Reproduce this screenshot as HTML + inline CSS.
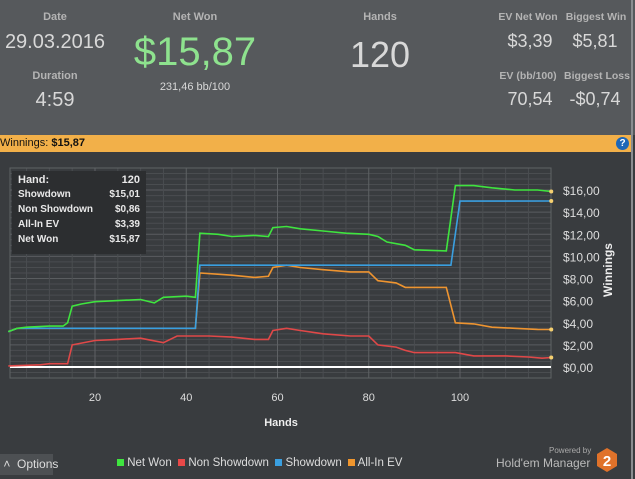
<!DOCTYPE html>
<html><head><meta charset="utf-8"><style>
body{margin:0;width:635px;height:479px;overflow:hidden;background:#393c3f;font-family:"Liberation Sans","DejaVu Sans",sans-serif;position:relative}
.top{position:absolute;left:0;top:0;width:635px;height:135px;background:#56595c}
.t{position:absolute;color:#d8d8d8;text-align:center;white-space:nowrap}
.lab{font-size:11px;color:#b4b4b4;font-weight:bold}
.bar{position:absolute;left:0;top:135px;width:632px;height:17px;background:#f2b049;font-size:11px;line-height:17px;color:#111}
.rb{position:absolute;left:631px;top:0;width:2px;height:479px;background:#8a8d90}
</style></head><body>
<div class="top"></div>
<div class="t lab" style="left:30px;top:11px;width:50px">Date</div>
<div class="t" style="left:0;top:31px;width:110px;font-size:20px">29.03.2016</div>
<div class="t lab" style="left:25px;top:70px;width:60px">Duration</div>
<div class="t" style="left:25px;top:89px;width:60px;font-size:20px">4:59</div>
<div class="t lab" style="left:155px;top:11px;width:80px">Net Won</div>
<div class="t" style="left:120px;top:30px;width:150px;font-size:40px;color:#8ee28e">$15,87</div>
<div class="t" style="left:140px;top:81px;width:110px;font-size:11px">231,46 bb/100</div>
<div class="t lab" style="left:350px;top:11px;width:60px">Hands</div>
<div class="t" style="left:320px;top:34px;width:120px;font-size:36px">120</div>
<div class="t lab" style="left:495px;top:11px;width:66px;font-size:10.5px">EV Net Won</div>
<div class="t lab" style="left:561px;top:11px;width:70px;font-size:10.5px">Biggest Win</div>
<div class="t" style="left:490px;top:31px;width:80px;font-size:18px">$3,39</div>
<div class="t" style="left:560px;top:31px;width:70px;font-size:18px">$5,81</div>
<div class="t lab" style="left:495px;top:70px;width:66px;font-size:10.5px">EV (bb/100)</div>
<div class="t lab" style="left:561px;top:70px;width:72px;font-size:10.5px">Biggest Loss</div>
<div class="t" style="left:490px;top:89px;width:80px;font-size:18px">70,54</div>
<div class="t" style="left:560px;top:89px;width:70px;font-size:18px">-$0,74</div>
<div class="bar">Winnings: <b>$15,87</b><span style="position:absolute;right:3px;top:2px;width:13px;height:13px;border-radius:50%;background:#1d67b8;color:#fff;font-size:10px;line-height:13px;text-align:center;font-weight:bold">?</span></div>
<div class="rb"></div>
<svg id="s" width="635" height="479" style="position:absolute;left:0;top:0"></svg>
<div style="position:absolute;left:0;top:454px;width:53px;height:21px;background:#4d5053;color:#ddd;font-size:12px;line-height:21px">&nbsp;˄&nbsp;&nbsp;Options</div>
<div style="position:absolute;left:117px;top:457px;font-size:11.5px;color:#ddd;white-space:nowrap">
<span style="display:inline-block;width:7px;height:7px;background:#3fe43f"></span> Net Won&nbsp;
<span style="display:inline-block;width:7px;height:7px;background:#e84848"></span> Non Showdown&nbsp;
<span style="display:inline-block;width:7px;height:7px;background:#3a9fe0"></span> Showdown&nbsp;
<span style="display:inline-block;width:7px;height:7px;background:#f0962e"></span> All-In EV</div>
<div style="position:absolute;left:549px;top:446px;font-size:8px;color:#aaa">Powered by</div>
<div style="position:absolute;left:496px;top:456px;font-size:12px;color:#bbb">Hold'em Manager</div>
<svg width="22" height="26" style="position:absolute;left:596px;top:447px"><polygon points="11,1 21,7 21,19 11,25 1,19 1,7" fill="#e0722a"/><text x="11" y="19" font-size="15" font-weight="bold" fill="#fff" text-anchor="middle" font-family="Liberation Sans">2</text></svg>
<div style="position:absolute;left:12px;top:171px;width:134px;height:83px;background:#2c2e30;color:#e8e8e8;font-size:10px;font-weight:bold">
<div style="position:relative;height:15px;font-size:11px;margin:3px 6px 0"><span>Hand:</span><span style="position:absolute;right:0">120</span></div>
<div style="position:relative;height:15px;margin:0 6px"><span>Showdown</span><span style="position:absolute;right:0">$15,01</span></div>
<div style="position:relative;height:15px;margin:0 6px"><span>Non Showdown</span><span style="position:absolute;right:0">$0,86</span></div>
<div style="position:relative;height:15px;margin:0 6px"><span>All-In EV</span><span style="position:absolute;right:0">$3,39</span></div>
<div style="position:relative;height:15px;margin:0 6px"><span>Net Won</span><span style="position:absolute;right:0">$15,87</span></div>
</div>
<script>
var X=h=>95+(h-20)*4.5625, Y=v=>367-v*11.06;
var s='';
var L=10,R=551,T=168,B=378;
for(var v=-1;v<=18.5;v+=0.5){var y=Y(v);if(y<T||y>B)continue;var maj=Math.abs(v%2)<1e-6;s+=`<line x1="${L}" x2="${R}" y1="${y}" y2="${y}" stroke="${maj?'#5a5d60':'#4a4d50'}" stroke-width="1"/>`;if(maj)s+=`<text x="563" y="${y+5}" font-size="12" fill="#ddd">$${v.toFixed(2).replace('.',',')}</text>`;}
for(var h=0;h<=121;h+=5){var x=X(h);if(x<L||x>R)continue;var maj=h%20==0;s+=`<line y1="${T}" y2="${B}" x1="${x}" x2="${x}" stroke="${maj?'#5e6164':'#4a4d50'}"/>`;if(maj)s+=`<text x="${x}" y="401" font-size="11" fill="#ddd" text-anchor="middle">${h}</text>`;}
s+=`<rect x="${L}" y="${T}" width="${R-L}" height="${B-T}" fill="none" stroke="#606366"/>`;
s+=`<line x1="${L}" x2="${R}" y1="${Y(0)}" y2="${Y(0)}" stroke="#fff" stroke-width="2"/>`;
s+=`<text x="281" y="426" font-size="11" font-weight="bold" fill="#eee" text-anchor="middle">Hands</text>`;
s+=`<text transform="translate(612,270) rotate(-90)" font-size="12" font-weight="bold" fill="#eee" text-anchor="middle">Winnings</text>`;
function pl(d,c){return `<polyline fill="none" stroke="${c}" stroke-width="1.6" points="${d.map(p=>X(p[0]).toFixed(1)+','+Y(p[1]).toFixed(1)).join(' ')}"/>`}
var nw=[[1,3.2],[3,3.5],[5,3.6],[10,3.7],[13,3.7],[14,4.0],[15,5.5],[17,5.7],[20,5.9],[25,6.0],[30,6.1],[33,5.8],[35,6.3],[40,6.4],[42,6.3],[43,12.1],[47,12.0],[50,11.8],[55,11.9],[58,11.8],[59,12.6],[62,12.7],[65,12.5],[70,12.3],[75,12.1],[80,12.0],[82,11.8],[84,11.3],[88,11.0],[90,10.6],[97,10.5],[99,16.4],[103,16.4],[107,16.2],[112,16.0],[117,16.0],[120,15.87]];
var sd=[[1,3.2],[3,3.5],[42,3.5],[43,9.2],[98,9.2],[100,15.0],[120,15.01]];
var ns=[[1,0.1],[8,0.2],[10,0.3],[14,0.3],[15,2.0],[20,2.4],[25,2.5],[30,2.6],[35,2.2],[38,2.8],[45,2.8],[50,2.7],[55,2.5],[58,2.5],[59,3.3],[62,3.5],[65,3.3],[70,3.0],[76,2.8],[80,2.8],[82,2.0],[86,1.8],[88,1.5],[90,1.3],[99,1.3],[103,1.0],[110,1.0],[115,0.9],[118,0.8],[120,0.86]];
var ev=[[1,3.2],[3,3.5],[42,3.5],[43,8.5],[50,8.3],[55,8.1],[58,8.2],[59,9.0],[62,9.2],[65,9.0],[70,8.8],[76,8.6],[80,8.6],[82,7.8],[86,7.6],[88,7.2],[97,7.2],[99,4.0],[103,3.9],[107,3.6],[112,3.5],[117,3.4],[120,3.39]];
s+=pl(ns,'#e04848')+pl(ev,'#ee9430')+pl(sd,'#3a9fe0')+pl(nw,'#3fe43f');
[15.87,15.01,3.39,0.86].forEach(v=>s+=`<circle cx="${X(120)}" cy="${Y(v)}" r="2" fill="#f5d070"/>`);
document.getElementById('s').innerHTML=s;
</script>
</body></html>
